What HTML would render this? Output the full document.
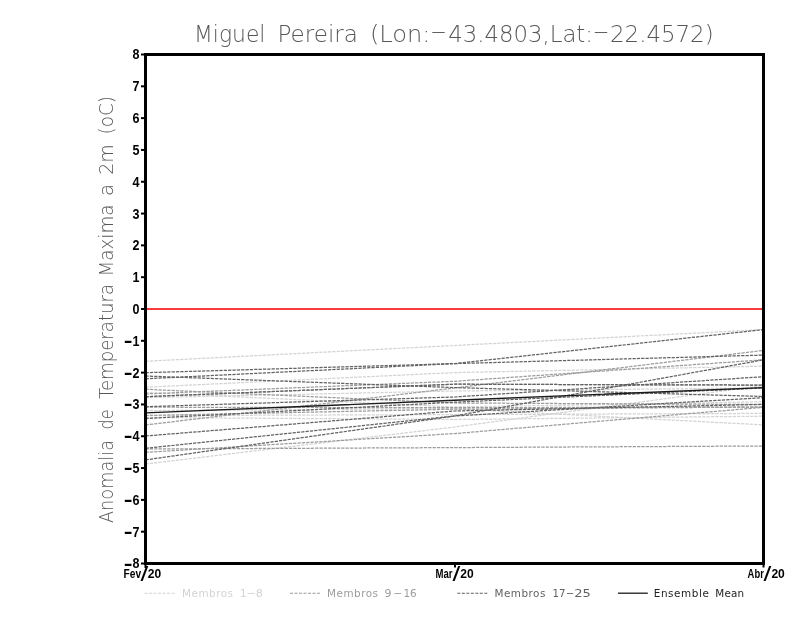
<!DOCTYPE html>
<html lang="pt">
<head>
<meta charset="utf-8">
<title>Miguel Pereira (Lon:-43.4803,Lat:-22.4572)</title>
<style>
html,body{margin:0;padding:0;background:#fff;}
body{width:800px;height:618px;overflow:hidden;}
svg{display:block;will-change:transform;}
text{font-family:"Liberation Sans",sans-serif;}
.thin{font-family:"DejaVu Sans Light","DejaVu Sans","Liberation Sans",sans-serif;font-weight:200;fill:#575757;}
.leg text{font-family:"DejaVu Sans","Liberation Sans",sans-serif;}
.ylab text{font-weight:bold;font-size:14.4px;fill:#000;}
.xlab text{font-weight:bold;font-size:13.6px;fill:#000;}
.members polyline{fill:none;stroke-width:1.25;stroke-dasharray:3.25 1.1;}
</style>
</head>
<body>
<svg width="800" height="618" viewBox="0 0 800 618">
<rect width="800" height="618" fill="#fff"/>
<g style="opacity:0.999">

<!-- title -->
<text class="thin" y="41.8" font-size="23.8" lengthAdjust="spacingAndGlyphs"><tspan x="194.0" y="41.8" textLength="71.4" lengthAdjust="spacingAndGlyphs">Miguel</tspan> <tspan x="277.4" y="41.8" textLength="80.6" lengthAdjust="spacingAndGlyphs">Pereira</tspan> <tspan x="369.9" y="41.8" textLength="60.6" lengthAdjust="spacingAndGlyphs">(Lon:</tspan><tspan x="430.0" y="38.8" textLength="17.0" lengthAdjust="spacingAndGlyphs">-</tspan><tspan x="448.2" y="41.8" textLength="144.8" lengthAdjust="spacingAndGlyphs">43.4803,Lat:</tspan><tspan x="592.4" y="38.8" textLength="17.0" lengthAdjust="spacingAndGlyphs">-</tspan><tspan x="610.0" y="41.8" textLength="103.6" lengthAdjust="spacingAndGlyphs">22.4572)</tspan></text>

<!-- y axis title -->
<text class="thin" transform="rotate(-90)" font-size="19.4" lengthAdjust="spacingAndGlyphs"><tspan x="-523.0" y="113.2" textLength="83.0" lengthAdjust="spacingAndGlyphs">Anomalia</tspan> <tspan x="-429.5" y="113.2" textLength="20.0" lengthAdjust="spacingAndGlyphs">de</tspan> <tspan x="-399.0" y="113.2" textLength="115.0" lengthAdjust="spacingAndGlyphs">Temperatura</tspan> <tspan x="-276.5" y="113.2" textLength="72.0" lengthAdjust="spacingAndGlyphs">Maxima</tspan> <tspan x="-196.0" y="113.2" textLength="12.0" lengthAdjust="spacingAndGlyphs">a</tspan> <tspan x="-174.8" y="113.2" textLength="30.5" lengthAdjust="spacingAndGlyphs">2m</tspan> <tspan x="-134.5" y="113.2" textLength="38.5" lengthAdjust="spacingAndGlyphs">(oC)</tspan></text>

<!-- ensemble members -->
<g class="members">
<polyline points="145.5,361.3 454.5,345.5 763.5,329.6" stroke="#d3d3d3"/>
<polyline points="145.5,387.2 454.5,372.6 763.5,366.2" stroke="#d3d3d3"/>
<polyline points="145.5,392.5 454.5,407.0 763.5,401.8" stroke="#d3d3d3"/>
<polyline points="145.5,397.6 454.5,391.0 763.5,388.0" stroke="#d3d3d3"/>
<polyline points="145.5,417.5 454.5,419.5 763.5,416.2" stroke="#d3d3d3"/>
<polyline points="145.5,464.0 454.5,427.0 763.5,385.5" stroke="#d3d3d3"/>
<polyline points="145.5,415.6 454.5,414.6 763.5,413.4" stroke="#d3d3d3"/>
<polyline points="145.5,410.6 454.5,408.6 763.5,424.9" stroke="#d3d3d3"/>
<polyline points="145.5,425.0 454.5,388.0 763.5,350.4" stroke="#9c9c9c"/>
<polyline points="145.5,393.9 454.5,381.3 763.5,359.8" stroke="#9c9c9c"/>
<polyline points="145.5,389.3 454.5,403.0 763.5,404.5" stroke="#9c9c9c"/>
<polyline points="145.5,407.2 454.5,407.7 763.5,407.0" stroke="#9c9c9c"/>
<polyline points="145.5,449.0 454.5,447.6 763.5,446.0" stroke="#9c9c9c"/>
<polyline points="145.5,452.3 454.5,433.6 763.5,407.3" stroke="#9c9c9c"/>
<polyline points="145.5,415.5 454.5,409.2 763.5,407.0" stroke="#9c9c9c"/>
<polyline points="145.5,396.7 454.5,384.2 763.5,385.1" stroke="#9c9c9c"/>
<polyline points="145.5,372.7 454.5,363.6 763.5,355.1" stroke="#626262"/>
<polyline points="145.5,378.8 454.5,363.6 763.5,329.6" stroke="#626262"/>
<polyline points="145.5,376.0 454.5,387.6 763.5,396.5" stroke="#626262"/>
<polyline points="145.5,396.7 454.5,384.2 763.5,385.1" stroke="#626262"/>
<polyline points="145.5,406.7 454.5,397.0 763.5,376.7" stroke="#626262"/>
<polyline points="145.5,418.5 454.5,402.2 763.5,388.0" stroke="#626262"/>
<polyline points="145.5,436.0 454.5,411.0 763.5,404.4" stroke="#626262"/>
<polyline points="145.5,448.3 454.5,416.0 763.5,397.6" stroke="#626262"/>
<polyline points="145.5,459.9 454.5,416.0 763.5,359.8" stroke="#626262"/>
</g>

<!-- zero line -->
<line x1="146" x2="764" y1="309" y2="309" stroke="#fa3c3c" stroke-width="2"/>

<!-- ensemble mean -->
<polyline points="145.5,412.9 454.5,400.3 763.5,387.6" fill="none" stroke="#1a1a1a" stroke-width="1.4"/>

<!-- frame -->
<rect x="145.5" y="54.5" width="618" height="509" fill="none" stroke="#000" stroke-width="3"/>

<!-- ticks -->
<g stroke="#000" stroke-width="2">
<line x1="141" x2="145" y1="563.50" y2="563.50"/>
<line x1="141" x2="145" y1="531.69" y2="531.69"/>
<line x1="141" x2="145" y1="499.88" y2="499.88"/>
<line x1="141" x2="145" y1="468.06" y2="468.06"/>
<line x1="141" x2="145" y1="436.25" y2="436.25"/>
<line x1="141" x2="145" y1="404.44" y2="404.44"/>
<line x1="141" x2="145" y1="372.62" y2="372.62"/>
<line x1="141" x2="145" y1="340.81" y2="340.81"/>
<line x1="141" x2="145" y1="309.00" y2="309.00"/>
<line x1="141" x2="145" y1="277.19" y2="277.19"/>
<line x1="141" x2="145" y1="245.38" y2="245.38"/>
<line x1="141" x2="145" y1="213.56" y2="213.56"/>
<line x1="141" x2="145" y1="181.75" y2="181.75"/>
<line x1="141" x2="145" y1="149.94" y2="149.94"/>
<line x1="141" x2="145" y1="118.12" y2="118.12"/>
<line x1="141" x2="145" y1="86.31" y2="86.31"/>
<line x1="141" x2="145" y1="54.50" y2="54.50"/>
<line x1="145.5" x2="145.5" y1="564" y2="568"/>
<line x1="455" x2="455" y1="564" y2="567.5"/>
<line x1="763.5" x2="763.5" y1="564" y2="567.5"/>
</g>

<!-- y tick labels -->
<g class="ylab">
<text x="123.7" y="568.45"><tspan dy="1.1" font-size="17.5" textLength="8.8" lengthAdjust="spacingAndGlyphs">-</tspan><tspan dy="-1.1" textLength="7.0" lengthAdjust="spacingAndGlyphs">8</tspan></text>
<text x="123.7" y="536.64"><tspan dy="1.1" font-size="17.5" textLength="8.8" lengthAdjust="spacingAndGlyphs">-</tspan><tspan dy="-1.1" textLength="7.0" lengthAdjust="spacingAndGlyphs">7</tspan></text>
<text x="123.7" y="504.82"><tspan dy="1.1" font-size="17.5" textLength="8.8" lengthAdjust="spacingAndGlyphs">-</tspan><tspan dy="-1.1" textLength="7.0" lengthAdjust="spacingAndGlyphs">6</tspan></text>
<text x="123.7" y="473.01"><tspan dy="1.1" font-size="17.5" textLength="8.8" lengthAdjust="spacingAndGlyphs">-</tspan><tspan dy="-1.1" textLength="7.0" lengthAdjust="spacingAndGlyphs">5</tspan></text>
<text x="123.7" y="441.20"><tspan dy="1.1" font-size="17.5" textLength="8.8" lengthAdjust="spacingAndGlyphs">-</tspan><tspan dy="-1.1" textLength="7.0" lengthAdjust="spacingAndGlyphs">4</tspan></text>
<text x="123.7" y="409.39"><tspan dy="1.1" font-size="17.5" textLength="8.8" lengthAdjust="spacingAndGlyphs">-</tspan><tspan dy="-1.1" textLength="7.0" lengthAdjust="spacingAndGlyphs">3</tspan></text>
<text x="123.7" y="377.57"><tspan dy="1.1" font-size="17.5" textLength="8.8" lengthAdjust="spacingAndGlyphs">-</tspan><tspan dy="-1.1" textLength="7.0" lengthAdjust="spacingAndGlyphs">2</tspan></text>
<text x="123.7" y="345.76"><tspan dy="1.1" font-size="17.5" textLength="8.8" lengthAdjust="spacingAndGlyphs">-</tspan><tspan dy="-1.1" textLength="7.0" lengthAdjust="spacingAndGlyphs">1</tspan></text>
<text x="132.5" y="313.95" textLength="7.0" lengthAdjust="spacingAndGlyphs">0</text>
<text x="132.5" y="282.14" textLength="7.0" lengthAdjust="spacingAndGlyphs">1</text>
<text x="132.5" y="250.32" textLength="7.0" lengthAdjust="spacingAndGlyphs">2</text>
<text x="132.5" y="218.51" textLength="7.0" lengthAdjust="spacingAndGlyphs">3</text>
<text x="132.5" y="186.70" textLength="7.0" lengthAdjust="spacingAndGlyphs">4</text>
<text x="132.5" y="154.89" textLength="7.0" lengthAdjust="spacingAndGlyphs">5</text>
<text x="132.5" y="123.08" textLength="7.0" lengthAdjust="spacingAndGlyphs">6</text>
<text x="132.5" y="91.26" textLength="7.0" lengthAdjust="spacingAndGlyphs">7</text>
<text x="132.5" y="59.45" textLength="7.0" lengthAdjust="spacingAndGlyphs">8</text>
</g>

<!-- x tick labels -->
<g class="xlab">
<text y="577.6"><tspan x="123.6" textLength="17.6" lengthAdjust="spacingAndGlyphs">Fev</tspan><tspan x="140.6" dy="2.9" font-size="20" font-weight="normal" textLength="7.8" lengthAdjust="spacingAndGlyphs">/</tspan><tspan x="147.8" dy="-2.9" textLength="13.4" lengthAdjust="spacingAndGlyphs">20</tspan></text>
<text y="577.6"><tspan x="435.6" textLength="17.0" lengthAdjust="spacingAndGlyphs">Mar</tspan><tspan x="452.6" dy="2.9" font-size="20" font-weight="normal" textLength="7.8" lengthAdjust="spacingAndGlyphs">/</tspan><tspan x="460.2" dy="-2.9" textLength="13.4" lengthAdjust="spacingAndGlyphs">20</tspan></text>
<text y="577.6"><tspan x="747.6" textLength="16.2" lengthAdjust="spacingAndGlyphs">Abr</tspan><tspan x="763.6" dy="2.9" font-size="20" font-weight="normal" textLength="7.8" lengthAdjust="spacingAndGlyphs">/</tspan><tspan x="771.4" dy="-2.9" textLength="13.4" lengthAdjust="spacingAndGlyphs">20</tspan></text>
</g>

<!-- legend -->
<g fill="none" stroke-width="1.15">
<line x1="144.5" x2="174.5" y1="593.2" y2="593.2" stroke="#d3d3d3" stroke-dasharray="3 1.5"/>
<line x1="290" x2="320" y1="593.2" y2="593.2" stroke="#9c9c9c" stroke-dasharray="3 1.5"/>
<line x1="457.3" x2="487.3" y1="593.2" y2="593.2" stroke="#626262" stroke-dasharray="3 1.5"/>
<line x1="618" x2="647.8" y1="593.2" y2="593.2" stroke="#1a1a1a" stroke-width="1.3"/>
</g>
<g class="leg" font-size="10.4">
<text y="596.7" fill="#d3d3d3"><tspan x="182.0" textLength="51.0" lengthAdjust="spacing">Membros</tspan> <tspan x="240.0" textLength="6.6" lengthAdjust="spacingAndGlyphs">1</tspan><tspan dy="-1.2" x="246.4" textLength="9.0" lengthAdjust="spacingAndGlyphs">-</tspan><tspan dy="1.2" x="255.8" textLength="7.2" lengthAdjust="spacingAndGlyphs">8</tspan></text>
<text y="596.7" fill="#9c9c9c"><tspan x="327.0" textLength="51.0" lengthAdjust="spacing">Membros</tspan> <tspan x="384.6" textLength="7.0" lengthAdjust="spacingAndGlyphs">9</tspan><tspan dy="-1.2" x="393.2" textLength="9.0" lengthAdjust="spacingAndGlyphs">-</tspan><tspan dy="1.2" x="403.4" textLength="13.4" lengthAdjust="spacingAndGlyphs">16</tspan></text>
<text y="596.7" fill="#626262"><tspan x="494.4" textLength="51.0" lengthAdjust="spacing">Membros</tspan> <tspan x="552.6" textLength="13.0" lengthAdjust="spacingAndGlyphs">17</tspan><tspan dy="-1.2" x="565.8" textLength="8.6" lengthAdjust="spacingAndGlyphs">-</tspan><tspan dy="1.2" x="574.2" textLength="16.6" lengthAdjust="spacingAndGlyphs">25</tspan></text>
<text y="596.7" fill="#1e1e1e"><tspan x="653.8" textLength="55.0" lengthAdjust="spacing">Ensemble</tspan> <tspan x="715.2" textLength="29.0" lengthAdjust="spacing">Mean</tspan></text>
</g>
</g>
</svg>
</body>
</html>
